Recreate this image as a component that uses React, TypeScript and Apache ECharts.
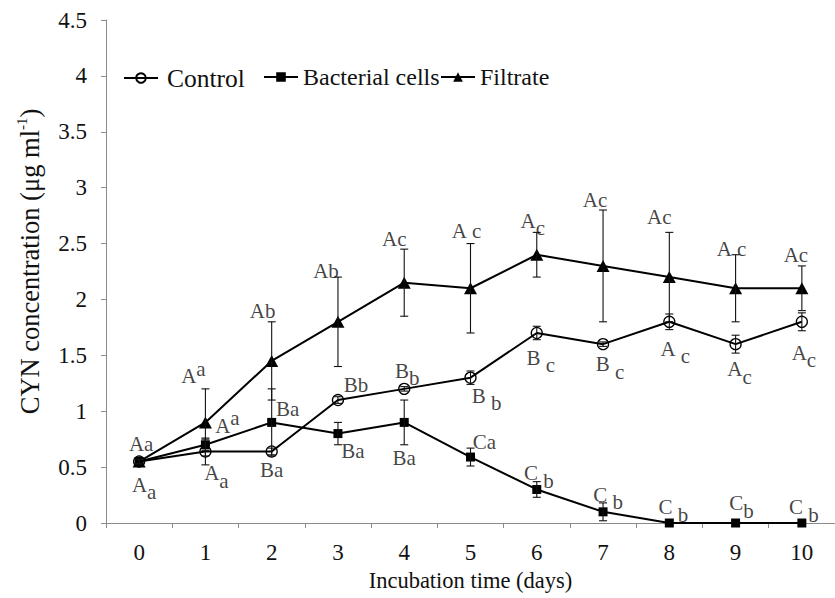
import React, { useEffect, useRef } from "react";
import * as echarts from "echarts";

const days = ["0", "1", "2", "3", "4", "5", "6", "7", "8", "9", "10"];
const yTicks = { min: 0, max: 4.5, interval: 0.5 };

const control = [0.55, 0.64, 0.64, 1.1, 1.2, 1.3, 1.7, 1.6, 1.8, 1.6, 1.8];
const controlErr = [0.02, 0.12, 0.03, 0.03, 0.02, 0.06, 0.06, 0.02, 0.07, 0.08, 0.08];
const bacterial = [0.55, 0.7, 0.9, 0.8, 0.9, 0.59, 0.3, 0.1, 0, 0, 0];
const bacterialErr = [0.02, 0.05, 0.3, 0.1, 0.2, 0.08, 0.07, 0.08, 0, 0, 0];
const filtrate = [0.55, 0.9, 1.45, 1.8, 2.15, 2.1, 2.4, 2.3, 2.2, 2.1, 2.1];
const filtrateErr = [0.02, 0.3, 0.35, 0.4, 0.3, 0.4, 0.2, 0.5, 0.4, 0.3, 0.2];

// significance letters ("_" = subscript, "^" = superscript)
const controlLetters = ["A_a", "A_a", "Ba", "Bb", "B_b", "B _b", "B _c", "B _c", "A _c", "A_c", "A_c"];
const bacterialLetters = ["", "A^a", "Ba", "Ba", "Ba", "Ca", "C _b", "C _b", "C _b", "C_b", "C _b"];
const filtrateLetters = ["Aa", "A^a", "Ab", "Ab", "Ac", "A c", "A_c", "Ac", "Ac", "A c", "Ac"];

// label placement offsets (pixels) relative to each point
const controlLabelOffset = [[5, 23], [11, 22], [0, 19], [18, -15], [3, -18], [16, 18], [4, 25], [7, 20], [6, 27], [4, 25], [2, 31]];
const bacterialLabelOffset = [[0, 0], [22, -19], [16, -13], [15, 17], [0, 36], [14, -15], [2, -16], [5, -17], [4, -16], [6, -20], [2, -16]];
const filtrateLabelOffset = [[2, -18], [-12, -46], [-9, -50], [-12, -51], [-10, -44], [-4, -57], [-4, -34], [-8, -66], [-10, -60], [-4, -39], [-6, -33]];

const FONT = "Liberation Serif";
const INK = "#111";

function toRich(s: string): string {
  if (!s) return "";
  let out = `{b|${s[0]}}`;
  let i = 1;
  while (i < s.length) {
    const c = s[i];
    if (c === "_" && i + 1 < s.length) {
      out += `{sub|${s[i + 1]}}`;
      i += 2;
    } else if (c === "^" && i + 1 < s.length) {
      out += `{sup|${s[i + 1]}}`;
      i += 2;
    } else {
      out += `{n|${c}}`;
      i += 1;
    }
  }
  return out;
}

const LBL = 21;
const richStyles = {
  b: { fontFamily: FONT, fontSize: LBL, lineHeight: 36, color: INK },
  n: { fontFamily: FONT, fontSize: LBL, lineHeight: 36, color: INK },
  sub: { fontFamily: FONT, fontSize: LBL, lineHeight: 22, color: INK, verticalAlign: "bottom" },
  sup: { fontFamily: FONT, fontSize: LBL, lineHeight: 22, color: INK, verticalAlign: "top" },
};

function errorSeries(name: string, values: number[], errs: number[]) {
  return {
    name,
    type: "custom",
    z: 5,
    silent: true,
    data: values.map((v, i) => [i, v, errs[i]]),
    encode: { x: 0, y: 1 },
    renderItem: (params: any, api: any) => {
      const i = api.value(0);
      const v = api.value(1);
      const e = api.value(2);
      if (!e) return null;
      const top = api.coord([i, v + e]);
      const bot = api.coord([i, v - e]);
      const w = 4;
      const st = { stroke: INK, lineWidth: 1.1 };
      return {
        type: "group",
        children: [
          { type: "line", shape: { x1: top[0], y1: top[1], x2: bot[0], y2: bot[1] }, style: st },
          { type: "line", shape: { x1: top[0] - w, y1: top[1], x2: top[0] + w, y2: top[1] }, style: st },
          { type: "line", shape: { x1: bot[0] - w, y1: bot[1], x2: bot[0] + w, y2: bot[1] }, style: st },
        ],
      };
    },
  };
}

function labelSeries(name: string, values: number[], letters: string[], offsets: number[][]) {
  return {
    name,
    type: "scatter",
    z: 6,
    silent: true,
    symbolSize: 1,
    itemStyle: { color: "rgba(0,0,0,0)" },
    data: values.map((v, i) => ({
      value: [i, v],
      label: {
        show: !!letters[i],
        position: "inside",
        offset: offsets[i],
        formatter: toRich(letters[i]),
        rich: richStyles,
      },
    })),
    label: { show: true, position: "inside", rich: richStyles },
  };
}

export default function App() {
  const ref = useRef<HTMLDivElement>(null);
  useEffect(() => {
    document.body.style.margin = "0";
    const chart = echarts.init(ref.current!, null, { renderer: "svg" });
    const lineBase = {
      type: "line",
      z: 4,
      lineStyle: { color: "#000", width: 2 },
    };
    const legendBase = {
      top: 65,
      padding: 0,
      itemWidth: 34,
      itemHeight: 12,
      selectedMode: false,
      textStyle: { fontFamily: FONT, fontSize: 24, color: INK },
    };
    chart.setOption({
      animation: false,
      backgroundColor: "#fff",
      grid: { left: 106, right: -7, top: 20, bottom: 75 },
      legend: [
        { ...legendBase, left: 123, data: ["Control"], textStyle: { ...legendBase.textStyle, fontSize: 25.5, padding: [0, 0, 0, 4] } },
        { ...legendBase, left: 263, data: ["Bacterial cells"] },
        { ...legendBase, left: 440, data: ["Filtrate"] },
      ],
      xAxis: {
        type: "category",
        data: days,
        boundaryGap: true,
        name: "Incubation time (days)",
        nameLocation: "middle",
        nameGap: 46,
        nameTextStyle: { fontFamily: FONT, fontSize: 22.5, color: INK },
        axisLine: { lineStyle: { color: "#8a8a8a", width: 1 } },
        axisTick: { show: true, length: 5, lineStyle: { color: "#8a8a8a" } },
        axisLabel: { fontFamily: FONT, fontSize: 23, color: INK, margin: 18 },
        splitLine: { show: false },
      },
      yAxis: {
        type: "value",
        min: yTicks.min,
        max: yTicks.max,
        interval: yTicks.interval,
        name: "{n|CYN concentration (μg ml}{s|-1}{n|)}",
        nameLocation: "middle",
        nameGap: 60,
        nameTextStyle: {
          fontFamily: FONT,
          fontSize: 26.5,
          color: INK,
          padding: [0, 0, 0, 20],
          rich: {
            n: { fontFamily: FONT, fontSize: 26.5, color: INK, lineHeight: 32 },
            s: { fontFamily: FONT, fontSize: 15, color: INK, lineHeight: 15, verticalAlign: "top" },
          },
        },
        axisLine: { show: true, lineStyle: { color: "#8a8a8a", width: 1 } },
        axisTick: { show: true, length: 5, lineStyle: { color: "#8a8a8a" } },
        axisLabel: { fontFamily: FONT, fontSize: 23, color: INK, margin: 19 },
        splitLine: { show: false },
      },
      series: [
        errorSeries("controlErr", control, controlErr),
        errorSeries("bacterialErr", bacterial, bacterialErr),
        errorSeries("filtrateErr", filtrate, filtrateErr),
        {
          ...lineBase,
          name: "Control",
          data: control,
          symbol: "circle",
          symbolSize: 11,
          itemStyle: { color: "rgba(255,255,255,0)", borderColor: "#000", borderWidth: 1.3 },
        },
        {
          ...lineBase,
          name: "Bacterial cells",
          data: bacterial,
          symbol: "rect",
          symbolSize: 9,
          itemStyle: { color: "#000" },
        },
        {
          ...lineBase,
          name: "Filtrate",
          data: filtrate,
          symbol: "triangle",
          symbolSize: [13, 12],
          itemStyle: { color: "#000" },
        },
        labelSeries("controlLbl", control, controlLetters, controlLabelOffset),
        labelSeries("bacterialLbl", bacterial, bacterialLetters, bacterialLabelOffset),
        labelSeries("filtrateLbl", filtrate, filtrateLetters, filtrateLabelOffset),
      ],
    });
    return () => chart.dispose();
  }, []);
  return <div ref={ref} style={{ width: 835, height: 598 }} />;
}
